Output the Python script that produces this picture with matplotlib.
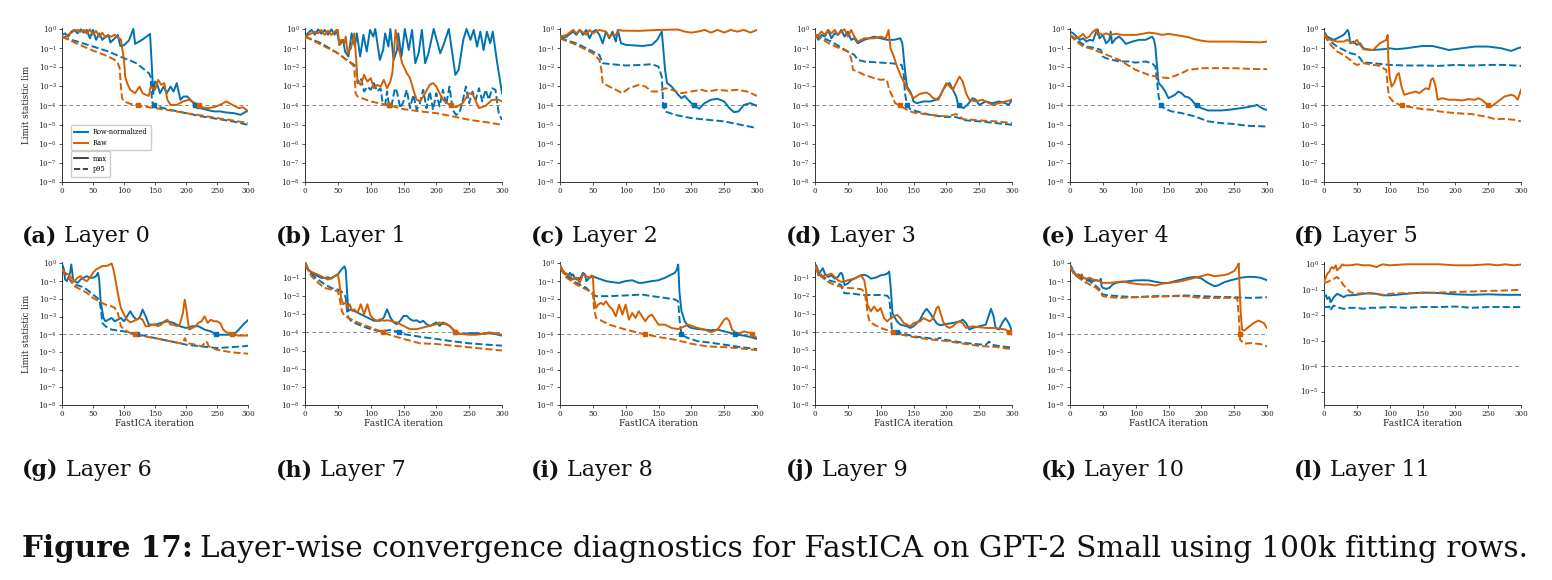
import numpy as np
import matplotlib
matplotlib.use("Agg")
import matplotlib.pyplot as plt
from matplotlib.ticker import LogLocator, NullLocator, FixedLocator
from matplotlib.lines import Line2D

plt.rcParams['font.family'] = ['DejaVu Serif']
plt.rcParams['mathtext.fontset'] = 'dejavuserif'

W, H = 1552, 580
BLUE = "#0072B2"
ORANGE = "#D55E00"

ITER_TICKS = [0, 50, 100, 150, 200, 250, 300]
THRESHOLD = 1e-4
PANEL_LETTERS = ["(a)", "(b)", "(c)", "(d)", "(e)", "(f)",
                 "(g)", "(h)", "(i)", "(j)", "(k)", "(l)"]
PANEL_TITLES = ["Layer 0", "Layer 1", "Layer 2", "Layer 3", "Layer 4", "Layer 5",
                "Layer 6", "Layer 7", "Layer 8", "Layer 9", "Layer 10", "Layer 11"]
SERIES_LABELS = ["Row-normalized", "Raw"]
STAT_LABELS = ["max", "p95"]
CAPTION_BOLD = "Figure 17:"
CAPTION_TEXT = "Layer-wise convergence diagnostics for FastICA on GPT-2 Small using 100k fitting rows."
YLABEL = "Limit statistic lim"
XLABEL = "FastICA iteration"

# values: (iteration, log10 of limit statistic)
# ---------------- Layer 0 ----------------
a_rn_max = [(0,-0.31),(5,-0.23),(10,-0.40),(15,-0.14),(20,-0.05),(25,-0.23),(30,-0.02),(35,-0.19),(40,-0.05),
            (45,-0.49),(50,-0.05),(55,-0.57),(60,-0.23),(65,-0.57),(70,-0.40),(75,-0.31),(78,-0.71),(85,-0.49),
            (90,-0.31),(94,-0.89),(100,-0.85),(108,-0.60),(115,0.0),(118,-0.78),(130,-0.55),(142,-0.26),(145,-2.0),
            (147,-3.40),(150,-2.75),(153,-2.83),(158,-3.36),(164,-3.01),(169,-3.36),(175,-3.01),(180,-3.27),
            (185,-2.83),(191,-3.70),(196,-3.53),(202,-3.53),(207,-3.70),(212,-3.88),(218,-4.14),(223,-4.14),
            (234,-4.23),(245,-4.31),(255,-4.31),(266,-4.37),(277,-4.40),(288,-4.49),(300,-4.26)]
a_raw_max = [(0,-0.49),(5,-0.40),(10,-0.30),(15,-0.20),(20,-0.09),(25,-0.05),(30,-0.15),(35,-0.05),(40,-0.25),
             (45,-0.02),(50,-0.30),(55,-0.10),(60,-0.40),(65,-0.20),(70,-0.45),(75,-0.35),(80,-0.40),(85,-0.30),
             (90,-0.45),(95,-0.55),(98,-1.20),(100,-1.62),(102,-2.50),(105,-2.83),(110,-3.18),(118,-3.36),
             (125,-3.01),(130,-3.36),(135,-3.44),(140,-3.50),(143,-3.01),(150,-3.18),(155,-2.66),(160,-2.92),
             (165,-2.83),(170,-3.70),(175,-3.97),(185,-3.97),(195,-3.79),(205,-3.70),(215,-3.88),(225,-4.09),
             (235,-4.14),(245,-4.09),(255,-3.97),(265,-3.79),(275,-3.97),(285,-4.14),(292,-4.09),(300,-4.31)]
a_rn_p95 = [(0,-0.43),(25,-0.66),(50,-0.92),(75,-1.18),(100,-1.53),(110,-1.65),(120,-1.79),(130,-2.05),
            (140,-2.31),(143,-2.49),(145,-3.70),(147,-3.97),(150,-4.02),(175,-4.23),(200,-4.40),(225,-4.57),
            (250,-4.70),(275,-4.83),(300,-5.01)]
a_raw_p95 = [(0,-0.40),(25,-0.78),(50,-1.13),(75,-1.44),(85,-1.62),(90,-1.79),(93,-2.05),(95,-3.01),(97,-3.62),
             (100,-3.79),(110,-3.91),(125,-4.02),(150,-4.14),(175,-4.26),(200,-4.40),(225,-4.52),(250,-4.66),
             (275,-4.78),(300,-4.92)]
# ---------------- Layer 1 ----------------
b_rn_max = [(0,-0.40),(5,-0.20),(10,-0.05),(15,-0.30),(20,-0.02),(25,-0.25),(30,-0.05),(35,-0.30),(40,-0.02),
            (45,-0.30),(48,-0.05),(53,-0.83),(58,-0.57),(61,-1.18),(66,-1.44),(71,-0.23),(76,-0.92),(79,-0.23),
            (84,-1.44),(89,-0.31),(94,-1.18),(99,-0.05),(104,-0.40),(107,0.0),(114,-1.62),(119,-1.10),(122,-0.23),
            (127,-0.92),(130,0.0),(135,-1.62),(140,-1.10),(142,-0.23),(147,-1.44),(152,0.0),(158,-1.10),(163,-0.05),
            (168,-1.79),(173,-1.27),(178,-0.05),(183,-1.79),(188,-1.27),(196,0.0),(206,-1.27),(211,-0.83),(219,0.0),
            (229,-2.40),(234,-2.14),(241,-0.57),(246,0.0),(252,-0.57),(257,-0.05),(262,-0.92),(267,-0.14),
            (272,-1.10),(277,-0.14),(282,-0.75),(286,-0.14),(292,-1.62),(300,-3.36)]
b_raw_max = [(0,-0.49),(5,-0.31),(10,-0.23),(15,-0.14),(20,-0.23),(25,-0.05),(30,-0.31),(35,-0.09),(40,-0.31),
             (45,-0.14),(50,-0.05),(52,-0.83),(55,-0.57),(60,-0.75),(62,-0.40),(65,-1.27),(70,-1.01),(75,-0.23),
             (78,-1.62),(80,-2.75),(85,-2.92),(90,-2.40),(95,-2.75),(100,-2.57),(105,-3.10),(110,-2.92),(115,-3.01),
             (120,-2.66),(125,-3.10),(130,-2.75),(133,-2.31),(138,-0.05),(142,-0.92),(148,-1.79),(155,-2.31),
             (160,-2.57),(165,-3.18),(170,-3.70),(175,-3.79),(180,-3.53),(190,-2.92),(195,-2.83),(200,-3.01),
             (210,-3.70),(220,-3.97),(230,-4.09),(240,-3.88),(250,-3.36),(255,-3.39),(265,-4.14),(275,-4.02),
             (285,-3.70),(295,-3.70),(300,-3.79)]
b_rn_p95 = [(0,-0.40),(25,-0.75),(50,-1.27),(60,-1.53),(75,-1.88),(78,-1.97),(80,-2.83),(85,-2.57),(90,-3.27),
            (95,-3.01),(100,-3.18),(105,-2.83),(110,-3.27),(115,-3.10),(118,-3.79),(122,-3.97),(125,-3.27),
            (128,-4.05),(132,-3.97),(137,-3.10),(140,-3.27),(145,-4.14),(150,-3.79),(155,-3.18),(160,-4.14),
            (165,-3.44),(170,-4.23),(175,-3.88),(180,-3.18),(185,-4.14),(190,-3.27),(195,-4.23),(200,-3.36),
            (205,-4.05),(210,-3.18),(215,-3.97),(220,-3.01),(225,-4.23),(230,-4.49),(235,-4.40),(240,-3.79),
            (245,-3.01),(250,-3.88),(255,-3.27),(260,-3.70),(265,-3.10),(270,-3.79),(275,-3.18),(280,-3.70),
            (285,-3.10),(290,-3.18),(295,-4.40),(300,-4.75)]
b_raw_p95 = [(0,-0.40),(25,-0.83),(50,-1.27),(60,-1.53),(70,-1.79),(75,-1.97),(77,-3.36),(80,-3.53),(100,-3.79),
             (125,-3.97),(150,-4.19),(175,-4.31),(200,-4.40),(225,-4.57),(250,-4.75),(275,-4.87),(300,-5.01)]
# ---------------- Layer 2 ----------------
c_rn_max = [(0,-0.31),(5,-0.49),(10,-0.40),(20,-0.14),(25,-0.31),(30,-0.05),(35,-0.31),(40,-0.05),(45,-0.49),
            (50,-0.14),(55,-0.05),(60,-0.31),(65,-0.75),(70,-0.14),(75,-0.49),(80,-0.14),(85,-0.66),(88,-0.05),
            (93,-0.75),(100,-0.83),(125,-0.89),(140,-0.83),(148,-0.57),(155,-0.14),(157,-0.92),(160,-2.14),
            (163,-2.83),(170,-3.01),(180,-3.44),(185,-3.62),(190,-3.50),(195,-3.70),(200,-3.88),(205,-4.02),
            (212,-4.17),(220,-3.88),(230,-3.70),(240,-3.65),(250,-3.79),(258,-4.14),(265,-4.35),(272,-4.31),
            (280,-3.97),(290,-3.88),(300,-4.02)]
c_raw_max = [(0,-0.40),(10,-0.31),(20,-0.05),(25,-0.23),(30,-0.05),(40,-0.31),(45,-0.05),(50,-0.23),(55,-0.14),
             (60,-0.05),(70,-0.14),(75,-0.40),(80,-0.31),(85,-0.31),(90,-0.05),(95,-0.09),(100,-0.09),(120,-0.10),
             (150,-0.05),(180,-0.03),(190,-0.14),(200,-0.19),(210,-0.14),(220,-0.05),(230,-0.19),(240,-0.05),
             (250,-0.19),(260,-0.05),(270,-0.14),(280,-0.05),(290,-0.19),(300,-0.05)]
c_rn_p95 = [(0,-0.49),(25,-0.75),(50,-1.18),(60,-1.36),(65,-1.79),(75,-1.83),(100,-1.91),(125,-1.88),(140,-1.84),
            (150,-1.97),(155,-2.49),(157,-3.88),(160,-4.31),(175,-4.49),(200,-4.66),(225,-4.75),(250,-4.83),
            (275,-5.01),(300,-5.18)]
c_raw_p95 = [(0,-0.49),(25,-0.83),(50,-1.27),(60,-1.62),(63,-2.14),(65,-2.83),(75,-3.01),(85,-3.18),(95,-3.36),
             (105,-3.10),(120,-2.92),(130,-3.01),(140,-3.27),(150,-3.27),(160,-3.10),(170,-3.18),(185,-3.36),
             (200,-3.27),(215,-3.18),(225,-3.27),(240,-3.18),(255,-3.23),(270,-3.18),(285,-3.27),(300,-3.50)]
# ---------------- Layer 3 ----------------
d_rn_max = [(0,-0.23),(5,-0.57),(10,-0.31),(15,-0.40),(20,-0.05),(25,-0.49),(30,-0.23),(35,-0.31),(40,-0.05),
            (45,-0.40),(50,-0.14),(55,-0.57),(60,-0.49),(65,-0.75),(75,-0.57),(90,-0.40),(100,-0.49),(110,-0.57),
            (120,-0.57),(130,-0.49),(133,-0.75),(137,-2.14),(140,-3.01),(145,-3.27),(148,-3.53),(150,-3.79),
            (155,-3.88),(165,-3.79),(175,-3.79),(185,-3.70),(190,-3.53),(195,-3.18),(200,-2.92),(205,-2.83),
            (210,-3.18),(215,-3.53),(218,-3.97),(222,-4.05),(226,-4.14),(232,-3.97),(240,-3.62),(245,-3.70),
            (250,-3.97),(260,-3.79),(270,-3.88),(280,-3.79),(290,-3.88),(295,-3.97),(300,-3.70)]
d_raw_max = [(0,-0.49),(5,-0.31),(10,-0.14),(15,-0.31),(20,-0.05),(25,-0.23),(30,-0.05),(35,-0.31),(40,-0.14),
             (45,-0.02),(50,-0.40),(55,-0.05),(60,-0.40),(65,-0.66),(75,-0.49),(90,-0.49),(100,-0.40),(108,-0.49),
             (112,-0.05),(115,-1.01),(120,-1.44),(125,-1.97),(130,-2.40),(135,-2.75),(140,-3.10),(145,-3.36),
             (150,-3.62),(155,-3.50),(160,-3.39),(170,-3.32),(175,-3.44),(180,-3.62),(188,-3.70),(195,-3.18),
             (200,-2.83),(205,-3.01),(210,-3.18),(215,-2.83),(220,-2.49),(225,-2.75),(230,-3.36),(235,-3.70),
             (245,-3.79),(255,-3.70),(260,-3.79),(270,-3.97),(280,-3.88),(290,-3.79),(300,-3.70)]
d_rn_p95 = [(0,-0.31),(25,-0.66),(50,-1.18),(60,-1.36),(65,-1.62),(75,-1.70),(100,-1.76),(115,-1.79),(125,-1.83),
            (132,-1.88),(135,-2.31),(137,-3.36),(140,-3.97),(145,-4.19),(155,-4.31),(175,-4.49),(200,-4.61),
            (210,-4.57),(220,-4.66),(230,-4.78),(250,-4.83),(275,-4.92),(300,-5.01)]
d_raw_p95 = [(0,-0.31),(25,-0.83),(50,-1.18),(55,-1.53),(58,-2.14),(65,-2.23),(75,-2.40),(90,-2.57),(100,-2.66),
             (108,-2.63),(110,-2.75),(113,-3.18),(118,-3.53),(122,-3.88),(130,-4.02),(140,-4.23),(150,-4.37),
             (175,-4.49),(200,-4.57),(210,-4.49),(215,-4.45),(220,-4.54),(225,-4.71),(250,-4.78),(275,-4.83),
             (300,-4.92)]
# ---------------- Layer 4 ----------------
e_rn_max = [(0,-0.14),(5,-0.23),(10,-0.40),(15,-0.57),(20,-0.49),(25,-0.66),(30,-0.57),(35,-0.61),(40,-0.14),
            (42,-0.02),(45,-0.49),(50,-0.31),(55,-0.75),(60,-0.57),(62,-0.14),(64,-0.75),(70,-0.49),(75,-0.40),
            (80,-0.57),(85,-0.78),(95,-0.66),(105,-0.57),(115,-0.57),(120,-0.49),(125,-0.40),(128,-0.57),
            (130,-0.92),(133,-2.14),(135,-2.83),(140,-3.01),(145,-3.27),(150,-3.62),(155,-3.53),(160,-3.44),
            (165,-3.27),(170,-3.36),(175,-3.53),(180,-3.57),(185,-3.70),(190,-3.91),(200,-4.14),(210,-4.26),
            (230,-4.26),(240,-4.23),(250,-4.19),(260,-4.14),(270,-4.09),(280,-4.02),(285,-3.97),(290,-4.09),
            (295,-4.19),(300,-4.23)]
e_raw_max = [(0,-0.37),(5,-0.49),(10,-0.49),(15,-0.40),(20,-0.26),(25,-0.49),(30,-0.37),(35,-0.14),(40,-0.02),
             (42,-0.31),(45,-0.23),(50,-0.31),(55,-0.23),(60,-0.31),(70,-0.26),(80,-0.31),(100,-0.31),(110,-0.26),
             (120,-0.19),(130,-0.23),(140,-0.31),(150,-0.26),(160,-0.31),(170,-0.37),(180,-0.43),(190,-0.54),
             (200,-0.61),(210,-0.66),(230,-0.66),(250,-0.66),(270,-0.68),(290,-0.70),(300,-0.66)]
e_rn_p95 = [(0,-0.31),(10,-0.57),(25,-0.92),(40,-1.01),(47,-1.10),(48,-1.18),(50,-1.44),(55,-1.53),(65,-1.62),
            (75,-1.70),(90,-1.70),(100,-1.76),(115,-1.70),(125,-1.79),(130,-1.97),(132,-2.57),(135,-3.53),
            (138,-3.97),(145,-4.19),(155,-4.31),(170,-4.40),(190,-4.57),(210,-4.83),(230,-4.92),(250,-4.97),
            (270,-5.06),(300,-5.10)]
e_raw_p95 = [(0,-0.31),(10,-0.66),(20,-0.92),(30,-1.01),(50,-1.27),(75,-1.62),(100,-2.14),(120,-2.40),
             (135,-2.52),(150,-2.57),(160,-2.45),(170,-2.31),(180,-2.14),(190,-2.10),(200,-2.05),(225,-2.05),
             (250,-2.05),(275,-2.09),(300,-2.10)]
# ---------------- Layer 5 ----------------
f_rn_max = [(0,-0.14),(5,-0.40),(10,-0.49),(15,-0.57),(20,-0.49),(25,-0.40),(30,-0.31),(36,-0.05),(38,-0.23),
            (40,-0.75),(45,-0.66),(50,-0.83),(55,-0.75),(60,-1.01),(65,-1.06),(75,-1.10),(90,-1.06),(100,-1.01),
            (110,-1.06),(125,-1.01),(150,-0.89),(165,-0.89),(180,-1.01),(190,-1.10),(210,-1.01),(230,-0.92),
            (250,-0.92),(270,-1.01),(285,-1.15),(295,-1.01),(300,-0.96)]
f_raw_max = [(0,-0.23),(5,-0.49),(10,-0.57),(20,-0.66),(30,-0.66),(35,-0.57),(40,-0.66),(45,-0.75),(50,-0.57),
             (55,-0.83),(60,-1.06),(70,-1.10),(75,-1.10),(80,-0.92),(85,-0.75),(90,-0.66),(95,-0.57),(97,-0.31),
             (98,-1.62),(100,-2.49),(103,-3.01),(107,-2.83),(111,-2.40),(114,-2.31),(118,-3.01),(122,-3.44),
             (130,-3.36),(140,-3.27),(145,-3.36),(150,-3.22),(155,-3.10),(160,-3.15),(163,-2.66),(166,-2.57),
             (170,-3.01),(173,-3.70),(180,-3.62),(190,-3.70),(200,-3.70),(210,-3.74),(220,-3.67),(230,-3.70),
             (235,-3.62),(240,-3.70),(245,-3.84),(250,-4.02),(255,-4.05),(265,-3.79),(275,-3.53),(285,-3.44),
             (290,-3.50),(295,-3.70),(300,-3.18)]
f_rn_p95 = [(0,-0.31),(10,-0.66),(20,-0.92),(30,-1.10),(40,-1.27),(45,-1.30),(50,-1.36),(55,-1.53),(60,-1.79),
            (65,-1.76),(75,-1.79),(100,-1.88),(125,-1.91),(150,-1.91),(175,-1.93),(200,-1.88),(225,-1.91),
            (250,-1.88),(275,-1.88),(300,-1.93)]
f_raw_p95 = [(0,-0.31),(10,-0.83),(20,-1.18),(30,-1.36),(40,-1.62),(45,-1.79),(50,-1.88),(60,-1.79),(75,-1.88),
             (85,-1.93),(90,-2.05),(95,-2.14),(97,-3.01),(99,-3.53),(105,-3.79),(115,-3.97),(125,-4.05),
             (150,-4.19),(165,-4.23),(170,-4.26),(175,-4.31),(200,-4.40),(225,-4.45),(250,-4.61),(260,-4.71),
             (275,-4.70),(290,-4.75),(300,-4.83)]
# ---------------- Layer 6 ----------------
g_rn_max = [(0,0.0),(3,-0.34),(5,-0.91),(8,-1.00),(13,-0.53),(15,-0.06),(18,-0.91),(20,-1.00),(25,-1.10),
            (30,-0.91),(35,-0.81),(40,-0.72),(45,-0.81),(50,-0.81),(55,-0.72),(58,-0.53),(60,-0.91),(62,-2.04),
            (65,-2.70),(67,-3.08),(70,-3.27),(75,-3.18),(80,-3.08),(85,-3.27),(90,-3.18),(95,-3.08),(100,-3.27),
            (105,-2.99),(110,-2.70),(115,-2.99),(120,-3.18),(125,-3.08),(130,-2.61),(135,-2.99),(140,-3.46),
            (150,-3.46),(160,-3.36),(170,-3.27),(180,-3.36),(190,-3.55),(200,-3.65),(210,-3.55),(220,-3.55),
            (230,-3.74),(240,-3.84),(250,-4.03),(260,-4.03),(270,-4.03),(280,-3.93),(285,-3.74),(290,-3.55),
            (295,-3.36),(300,-3.21)]
g_raw_max = [(0,-0.34),(5,-0.53),(10,-0.62),(15,-0.81),(20,-1.00),(25,-0.81),(30,-0.72),(35,-0.91),(40,-1.00),
             (45,-0.81),(50,-0.53),(55,-0.34),(60,-0.25),(65,-0.15),(70,-0.15),(75,-0.11),(80,0.0),(83,-0.34),
             (88,-1.29),(92,-2.04),(95,-2.51),(100,-2.89),(105,-3.18),(110,-3.33),(115,-3.27),(120,-3.18),
             (125,-3.08),(130,-3.18),(135,-3.55),(140,-3.55),(145,-3.46),(150,-3.46),(155,-3.55),(160,-3.46),
             (165,-3.27),(170,-3.18),(175,-3.46),(180,-3.46),(185,-3.55),(190,-3.46),(195,-2.80),(198,-2.04),
             (201,-2.70),(205,-3.74),(210,-3.65),(215,-3.55),(220,-3.36),(225,-3.27),(230,-2.99),(235,-3.36),
             (240,-3.18),(245,-3.27),(250,-3.27),(255,-3.36),(260,-3.74),(265,-3.89),(270,-3.93),(275,-4.03),
             (285,-4.08),(300,-4.08)]
g_rn_p95 = [(0,-0.34),(10,-0.81),(20,-1.19),(30,-1.29),(40,-1.47),(50,-1.76),(60,-2.04),(62,-2.42),(64,-2.99),
            (65,-3.36),(70,-3.55),(80,-3.74),(100,-3.84),(125,-4.03),(150,-4.22),(175,-4.40),(200,-4.59),
            (225,-4.69),(250,-4.78),(275,-4.73),(290,-4.69),(300,-4.65)]
g_raw_p95 = [(0,-0.34),(10,-0.81),(20,-1.29),(30,-1.47),(40,-1.66),(50,-1.95),(60,-2.14),(70,-2.33),(80,-2.42),
             (85,-2.51),(90,-2.80),(95,-3.55),(100,-3.74),(110,-3.93),(125,-4.08),(150,-4.22),(175,-4.40),
             (195,-4.54),(198,-4.22),(202,-4.50),(215,-4.59),(225,-4.69),(233,-4.40),(237,-4.69),(250,-4.88),
             (275,-5.03),(300,-5.10)]
# ---------------- Layer 7 ----------------
h_rn_max = [(0,-0.09),(2,-0.27),(5,-0.55),(10,-0.73),(15,-0.82),(20,-0.91),(25,-1.00),(30,-1.00),(35,-0.96),
            (40,-1.04),(45,-0.91),(50,-0.82),(55,-0.55),(60,-0.36),(62,-0.55),(64,-1.73),(66,-2.82),(70,-2.73),
            (75,-2.82),(80,-2.91),(85,-3.00),(90,-3.09),(95,-3.18),(100,-3.27),(105,-3.36),(110,-3.36),
            (115,-3.36),(120,-3.18),(125,-2.73),(130,-3.18),(135,-3.45),(140,-3.55),(145,-3.36),(150,-3.09),
            (155,-3.09),(160,-3.27),(165,-3.36),(170,-3.33),(175,-3.45),(180,-3.36),(185,-3.55),(190,-3.64),
            (195,-3.55),(200,-3.45),(205,-3.64),(210,-3.45),(215,-3.55),(220,-3.64),(225,-3.82),(230,-4.05),
            (240,-4.09),(250,-4.05),(260,-4.04),(270,-4.09),(280,-4.05),(290,-4.09),(300,-4.18)]
h_raw_max = [(0,-0.18),(5,-0.55),(10,-0.67),(20,-0.82),(30,-1.00),(35,-1.09),(40,-1.00),(45,-0.91),(50,-0.78),
             (52,-1.18),(55,-2.09),(58,-2.45),(62,-2.36),(65,-2.64),(68,-2.45),(72,-2.82),(75,-2.73),(80,-2.91),
             (85,-2.45),(90,-3.00),(95,-2.45),(100,-3.09),(105,-3.27),(110,-3.36),(115,-3.27),(120,-3.36),
             (125,-3.33),(130,-3.36),(140,-3.45),(150,-3.64),(160,-3.82),(170,-3.82),(180,-3.73),(190,-3.64),
             (200,-3.55),(205,-3.45),(210,-3.55),(215,-3.51),(220,-3.64),(225,-3.82),(230,-4.05),(240,-4.09),
             (250,-4.13),(260,-4.13),(270,-4.09),(280,-4.00),(290,-4.05),(300,-4.13)]
h_rn_p95 = [(0,-0.27),(10,-0.82),(20,-1.09),(30,-1.36),(40,-1.55),(50,-1.64),(55,-1.73),(60,-1.91),(62,-2.09),
            (64,-2.82),(66,-3.18),(70,-3.36),(80,-3.55),(90,-3.69),(100,-3.82),(110,-3.91),(120,-3.91),
            (130,-3.87),(140,-3.95),(150,-4.09),(175,-4.24),(200,-4.36),(225,-4.49),(250,-4.60),(275,-4.67),
            (300,-4.73)]
h_raw_p95 = [(0,-0.27),(10,-0.91),(20,-1.27),(30,-1.55),(40,-1.64),(50,-1.73),(53,-2.18),(56,-2.82),(60,-3.09),
             (70,-3.27),(80,-3.45),(100,-3.73),(125,-4.09),(150,-4.36),(175,-4.60),(200,-4.64),(225,-4.73),
             (250,-4.82),(275,-4.91),(300,-5.00)]
# ---------------- Layer 8 ----------------
i_rn_max = [(0,-0.06),(3,-0.34),(5,-0.53),(8,-0.62),(10,-0.57),(12,-0.72),(15,-0.53),(18,-0.68),(20,-0.62),
            (22,-0.81),(25,-0.91),(28,-0.81),(30,-0.91),(35,-0.53),(38,-0.62),(40,-1.00),(45,-0.81),(50,-0.72),
            (55,-0.81),(60,-0.87),(70,-1.00),(80,-1.06),(90,-1.10),(100,-1.00),(110,-0.95),(120,-1.10),
            (125,-1.10),(140,-1.00),(150,-0.95),(160,-0.81),(170,-0.62),(175,-0.53),(178,-0.34),(180,-0.06),
            (182,-1.66),(185,-2.70),(190,-3.27),(195,-3.55),(200,-3.65),(210,-3.71),(220,-3.74),(230,-3.78),
            (240,-3.74),(250,-3.84),(260,-3.93),(270,-4.03),(280,-4.08),(290,-4.16),(300,-4.27)]
i_raw_max = [(0,-0.15),(5,-0.43),(10,-0.62),(15,-0.72),(20,-0.91),(25,-0.81),(30,-1.10),(35,-0.62),(38,-0.68),
             (40,-0.72),(45,-0.81),(48,-0.68),(50,-0.72),(52,-2.04),(55,-2.51),(58,-2.33),(62,-2.23),(66,-2.33),
             (70,-2.14),(75,-2.42),(80,-2.61),(85,-2.99),(90,-2.33),(95,-2.89),(100,-2.33),(105,-3.18),
             (110,-2.80),(115,-3.08),(120,-2.70),(125,-2.99),(130,-3.27),(135,-2.99),(140,-2.89),(145,-3.18),
             (150,-3.46),(160,-3.46),(170,-3.65),(180,-3.71),(190,-3.55),(195,-3.46),(200,-3.52),(210,-3.65),
             (220,-3.74),(230,-3.89),(240,-3.74),(245,-3.46),(250,-3.18),(254,-3.08),(258,-3.27),(262,-3.74),
             (268,-3.93),(275,-3.93),(280,-3.84),(290,-3.93),(300,-4.22)]
i_rn_p95 = [(0,-0.25),(10,-0.72),(25,-1.10),(40,-1.38),(50,-1.76),(55,-1.85),(75,-1.85),(100,-1.81),
            (125,-1.76),(140,-1.85),(160,-1.95),(175,-2.04),(180,-2.14),(182,-3.18),(185,-4.03),(195,-4.22),
            (210,-4.40),(225,-4.46),(250,-4.59),(275,-4.73),(300,-4.84)]
i_raw_p95 = [(0,-0.25),(10,-0.81),(25,-1.19),(40,-1.47),(50,-1.66),(52,-2.61),(55,-3.08),(65,-3.27),(75,-3.46),
             (100,-3.74),(125,-3.97),(150,-4.16),(175,-4.31),(200,-4.54),(225,-4.69),(250,-4.73),(275,-4.80),
             (300,-4.90)]
# ---------------- Layer 9 ----------------
j_rn_max = [(0,-0.25),(3,-0.43),(5,-0.88),(8,-0.70),(12,-0.49),(15,-0.79),(20,-0.97),(25,-0.88),(30,-1.06),
            (35,-0.97),(38,-0.79),(40,-0.74),(42,-0.88),(45,-1.42),(50,-1.33),(55,-1.15),(60,-1.06),(65,-0.97),
            (70,-0.88),(75,-0.85),(80,-0.92),(85,-1.06),(90,-1.03),(95,-0.97),(100,-0.88),(105,-0.85),(110,-0.79),
            (113,-0.67),(115,-1.42),(118,-2.95),(122,-3.23),(125,-3.41),(130,-3.59),(140,-3.68),(145,-3.77),
            (150,-3.68),(155,-3.50),(160,-3.32),(165,-2.95),(170,-2.72),(175,-2.95),(180,-3.23),(185,-3.50),
            (190,-3.62),(195,-3.59),(200,-3.55),(210,-3.50),(220,-3.41),(225,-3.32),(230,-3.50),(235,-3.86),
            (240,-3.77),(250,-3.68),(260,-3.59),(265,-3.05),(268,-2.72),(272,-3.14),(275,-3.77),(280,-3.86),
            (285,-3.50),(290,-3.23),(295,-3.50),(300,-3.95)]
j_raw_max = [(0,-0.43),(5,-0.79),(10,-0.97),(15,-0.88),(20,-0.85),(25,-0.79),(30,-0.97),(35,-1.15),(40,-1.24),
             (45,-1.21),(50,-1.15),(60,-1.06),(65,-0.97),(70,-0.88),(75,-1.15),(78,-1.78),(80,-2.50),(85,-2.86),
             (90,-2.59),(95,-2.86),(100,-2.68),(105,-3.23),(110,-3.41),(115,-3.23),(120,-3.14),(125,-3.05),
             (130,-3.23),(135,-3.50),(140,-3.59),(145,-3.68),(150,-3.50),(160,-3.41),(165,-3.23),(170,-3.32),
             (175,-3.41),(180,-3.23),(185,-2.68),(188,-2.59),(192,-3.05),(195,-3.41),(200,-3.68),(205,-3.77),
             (210,-3.68),(215,-3.50),(220,-3.41),(225,-3.50),(230,-3.77),(240,-3.68),(250,-3.73),(260,-3.77),
             (270,-3.77),(280,-3.80),(290,-3.86),(300,-4.14)]
j_rn_p95 = [(0,-0.34),(10,-0.88),(20,-1.15),(30,-1.24),(40,-1.42),(42,-1.69),(45,-1.87),(55,-1.87),(65,-1.93),
            (75,-1.96),(85,-1.96),(100,-1.96),(110,-2.00),(113,-2.14),(115,-2.86),(117,-3.86),(120,-3.95),
            (130,-4.04),(150,-4.23),(175,-4.34),(185,-4.40),(190,-4.31),(195,-4.40),(210,-4.49),(225,-4.58),
            (250,-4.67),(260,-4.70),(265,-4.52),(270,-4.70),(280,-4.76),(300,-4.85)]
j_raw_p95 = [(0,-0.34),(10,-0.97),(20,-1.24),(30,-1.42),(40,-1.51),(50,-1.57),(60,-1.60),(70,-1.64),(75,-1.78),
             (78,-2.32),(80,-2.95),(83,-3.41),(90,-3.59),(100,-3.77),(115,-3.95),(125,-4.09),(150,-4.27),
             (175,-4.40),(200,-4.49),(225,-4.63),(250,-4.76),(275,-4.81),(300,-4.94)]
# ---------------- Layer 10 ----------------
k_rn_max = [(0,-0.06),(3,-0.25),(5,-0.53),(8,-0.62),(10,-0.72),(13,-0.62),(15,-0.68),(18,-0.72),(20,-0.81),
            (25,-0.87),(30,-0.91),(35,-1.00),(40,-0.95),(45,-1.00),(47,-0.87),(48,-1.29),(50,-1.38),(55,-1.44),
            (60,-1.38),(65,-1.19),(70,-1.10),(80,-1.04),(100,-0.96),(110,-0.95),(120,-0.96),(130,-1.04),
            (140,-1.10),(150,-1.10),(160,-1.00),(170,-0.91),(180,-0.81),(190,-0.76),(200,-0.85),(210,-1.10),
            (220,-1.29),(225,-1.25),(235,-1.06),(245,-0.95),(260,-0.81),(270,-0.76),(280,-0.76),(290,-0.81),
            (300,-0.95)]
k_raw_max = [(0,-0.15),(5,-0.53),(10,-0.62),(15,-0.72),(18,-0.62),(20,-0.81),(25,-0.87),(30,-0.81),(35,-0.91),
             (40,-0.95),(45,-1.00),(50,-1.10),(60,-1.10),(70,-1.06),(80,-1.02),(90,-1.10),(100,-1.15),(110,-1.19),
             (120,-1.19),(130,-1.25),(140,-1.15),(150,-1.10),(160,-1.06),(170,-1.00),(180,-0.91),(190,-0.81),
             (200,-0.72),(210,-0.62),(220,-0.72),(230,-0.68),(240,-0.62),(250,-0.43),(255,-0.15),(257,0.0),
             (258,-1.10),(260,-2.80),(262,-3.74),(265,-3.80),(270,-3.65),(280,-3.36),(287,-3.23),(295,-3.36),
             (300,-3.65)]
k_rn_p95 = [(0,-0.25),(10,-0.62),(20,-0.91),(30,-1.00),(40,-1.29),(45,-1.47),(47,-1.57),(50,-1.76),(60,-1.81),
            (75,-1.85),(100,-1.91),(125,-1.85),(150,-1.85),(175,-1.81),(200,-1.85),(225,-1.89),(250,-1.91),
            (275,-1.95),(300,-1.91)]
k_raw_p95 = [(0,-0.25),(10,-0.72),(20,-1.00),(30,-1.19),(40,-1.38),(45,-1.57),(50,-1.85),(60,-1.91),(75,-1.95),
             (100,-1.91),(125,-1.89),(150,-1.85),(175,-1.85),(200,-1.95),(225,-1.95),(250,-1.95),(255,-2.00),
             (257,-2.99),(259,-4.31),(265,-4.54),(275,-4.50),(290,-4.56),(300,-4.69)]
# ---------------- Layer 11 ----------------
l_rn_max = [(0,-1.29),(3,-1.22),(5,-1.36),(8,-1.29),(10,-1.49),(12,-1.42),(15,-1.29),(20,-1.16),(25,-1.22),
            (30,-1.29),(35,-1.22),(40,-1.22),(50,-1.20),(60,-1.16),(70,-1.13),(80,-1.16),(90,-1.22),(100,-1.22),
            (110,-1.20),(125,-1.16),(150,-1.11),(175,-1.13),(200,-1.18),(225,-1.20),(250,-1.18),(275,-1.20),
            (300,-1.20)]
l_raw_max = [(0,-0.70),(3,-0.50),(5,-0.37),(8,-0.30),(10,-0.17),(12,-0.11),(15,-0.17),(18,-0.04),(20,-0.24),
             (25,-0.11),(28,0.0),(30,-0.04),(40,-0.04),(50,0.0),(60,-0.04),(70,-0.04),(80,-0.11),(85,-0.04),
             (90,0.0),(100,-0.04),(125,0.0),(150,0.0),(175,0.0),(200,-0.04),(225,-0.04),(250,0.0),(265,-0.04),
             (275,0.0),(290,-0.04),(300,-0.01)]
l_rn_p95 = [(0,-1.68),(5,-1.68),(8,-1.66),(10,-1.82),(12,-1.71),(15,-1.62),(20,-1.68),(25,-1.72),(30,-1.75),
            (40,-1.71),(50,-1.71),(60,-1.75),(70,-1.71),(80,-1.71),(100,-1.68),(125,-1.71),(150,-1.68),
            (175,-1.68),(200,-1.66),(225,-1.71),(250,-1.68),(275,-1.68),(300,-1.68)]
l_raw_p95 = [(0,-0.74),(5,-0.70),(10,-0.63),(15,-0.57),(20,-0.50),(25,-0.63),(30,-0.83),(35,-0.96),(40,-1.09),
             (45,-1.13),(50,-1.16),(60,-1.13),(75,-1.16),(90,-1.20),(100,-1.16),(125,-1.13),(150,-1.13),
             (175,-1.11),(200,-1.09),(225,-1.07),(250,-1.05),(275,-1.03),(300,-1.00)]

PANEL_SERIES = [
    (a_rn_max, a_rn_p95, a_raw_max, a_raw_p95),
    (b_rn_max, b_rn_p95, b_raw_max, b_raw_p95),
    (c_rn_max, c_rn_p95, c_raw_max, c_raw_p95),
    (d_rn_max, d_rn_p95, d_raw_max, d_raw_p95),
    (e_rn_max, e_rn_p95, e_raw_max, e_raw_p95),
    (f_rn_max, f_rn_p95, f_raw_max, f_raw_p95),
    (g_rn_max, g_rn_p95, g_raw_max, g_raw_p95),
    (h_rn_max, h_rn_p95, h_raw_max, h_raw_p95),
    (i_rn_max, i_rn_p95, i_raw_max, i_raw_p95),
    (j_rn_max, j_rn_p95, j_raw_max, j_raw_p95),
    (k_rn_max, k_rn_p95, k_raw_max, k_raw_p95),
    (l_rn_max, l_rn_p95, l_raw_max, l_raw_p95),
]

# ---------------- layout (pixels) ----------------
COL_LEFT = [62, 305, 560, 815, 1070, 1324]
COL_RIGHT = [248, 502, 757, 1012, 1267, 1521]
ROW_TOP = [28, 262]
ROW_BOTTOM = [182, 405]
YLIM_EXP = [(-8, 0.05)] * 6 + [(-8, 0.08), (-8, -0.12), (-8, 0.08), (-8, -0.15), (-8, 0.08), (-5.53, 0.09)]
CAP_X = [22, 276, 531, 786, 1041, 1294]
CAP_BASE = [242, 476]

fig = plt.figure(figsize=(W / 100, H / 100), dpi=100)
fig.patch.set_facecolor("white")


def crossing(series):
    xs = [p[0] for p in series]
    es = [p[1] for p in series]
    for k in range(1, len(es)):
        if es[k] <= -4 < es[k - 1]:
            t = (es[k - 1] + 4) / (es[k - 1] - es[k])
            return xs[k - 1] + t * (xs[k] - xs[k - 1])
    return None


axes = []
for idx in range(12):
    r, c = divmod(idx, 6)
    l, rr = COL_LEFT[c], COL_RIGHT[c]
    t, b = ROW_TOP[r], ROW_BOTTOM[r]
    ax = fig.add_axes([l / W, 1 - b / H, (rr - l) / W, (b - t) / H])
    axes.append(ax)
    ax.set_yscale("log")
    rn_max, rn_p95, raw_max, raw_p95 = PANEL_SERIES[idx]
    ax.axhline(THRESHOLD, color="#8a8a8a", lw=0.7, ls=(0, (4, 3)), zorder=1)
    for ser, col, ls in [(rn_max, BLUE, "-"), (rn_p95, BLUE, "--"),
                         (raw_max, ORANGE, "-"), (raw_p95, ORANGE, "--")]:
        xs = np.array([p[0] for p in ser], dtype=float)
        ys = 10.0 ** np.array([p[1] for p in ser])
        ax.plot(xs, ys, color=col, lw=1.4, ls=ls, zorder=3)
        xc = crossing(ser)
        if xc is not None:
            ax.plot([xc], [THRESHOLD], marker="s", ms=2.6, color=col, lw=0, zorder=4)
    lo, hi = YLIM_EXP[idx]
    ax.set_ylim(10 ** lo, 10 ** hi)
    ax.set_xlim(0, 300)
    ax.xaxis.set_major_locator(FixedLocator(ITER_TICKS))
    ax.yaxis.set_major_locator(LogLocator(base=10, numticks=30))
    ax.yaxis.set_minor_locator(NullLocator())
    for s in ["top", "right"]:
        ax.spines[s].set_visible(False)
    for s in ["left", "bottom"]:
        ax.spines[s].set_linewidth(0.7)
        ax.spines[s].set_color("#333333")
    ax.tick_params(labelsize=5.2, length=2.2, width=0.6, pad=1.5, colors="#333333", labelcolor="#222222")
    if c == 0:
        ax.set_ylabel(YLABEL, fontsize=6.3, color="#222222")
        ax.yaxis.set_label_coords(-(l - 31) / (rr - l), 0.5)
    if r == 1:
        ax.set_xlabel(XLABEL, fontsize=6.5, color="#222222")
        ax.xaxis.set_label_coords(0.5, -(424 - 405) / (b - t))
        ax.xaxis.label.set_va("center")

# legends in panel (a)
ax0 = axes[0]
h1 = [Line2D([], [], color=BLUE, lw=1.4), Line2D([], [], color=ORANGE, lw=1.4)]
leg1 = ax0.legend(h1, SERIES_LABELS, loc="upper left", bbox_to_anchor=(0.048, 0.37), borderaxespad=0,
                  fontsize=4.8, frameon=True, edgecolor="#cccccc", framealpha=1, handlelength=2.0,
                  borderpad=0.5, labelspacing=0.4, handletextpad=0.8)
ax0.add_artist(leg1)
h2 = [Line2D([], [], color="#222222", lw=1.2), Line2D([], [], color="#222222", lw=1.2, ls="--")]
ax0.legend(h2, STAT_LABELS, loc="upper left", bbox_to_anchor=(0.048, 0.20), borderaxespad=0,
           fontsize=4.8, frameon=True, edgecolor="#cccccc", framealpha=1, handlelength=2.0,
           borderpad=0.5, labelspacing=0.4, handletextpad=0.8)

renderer = fig.canvas.get_renderer()


def width_of(text, size, weight):
    tt = fig.text(0, 0, text, fontsize=size, fontweight=weight)
    w = tt.get_window_extent(renderer).width
    tt.remove()
    return w


def two_part(x_px, base_px, bold, rest, size, gap):
    t1 = fig.text(x_px / W, 1 - base_px / H, bold, fontsize=size, fontweight="bold",
                  va="baseline", ha="left", color="#111111")
    bb = t1.get_window_extent(renderer)
    fig.text((bb.x1 + gap) / W, 1 - base_px / H, rest, fontsize=size,
             va="baseline", ha="left", color="#111111")


# panel captions: one size, chosen so "Layer 0" is about 86 px wide
s_cap = 16.0
for _ in range(3):
    s_cap *= 86.0 / width_of(PANEL_TITLES[0], s_cap, "normal")
for idx in range(12):
    r, c = divmod(idx, 6)
    two_part(CAP_X[c], CAP_BASE[r], PANEL_LETTERS[idx], PANEL_TITLES[idx], s_cap, 7)

# figure caption: one size, whole line fitted between x=22 and x=1525
s_fig = 16.0
for _ in range(3):
    total = width_of(CAPTION_BOLD, s_fig, "bold") + 7 + width_of(CAPTION_TEXT, s_fig, "normal")
    s_fig *= (1525 - 22 - 7) / (total - 7)
two_part(22, 557, CAPTION_BOLD, CAPTION_TEXT, s_fig, 7)

fig.savefig("out.png", dpi=100, facecolor="white")
